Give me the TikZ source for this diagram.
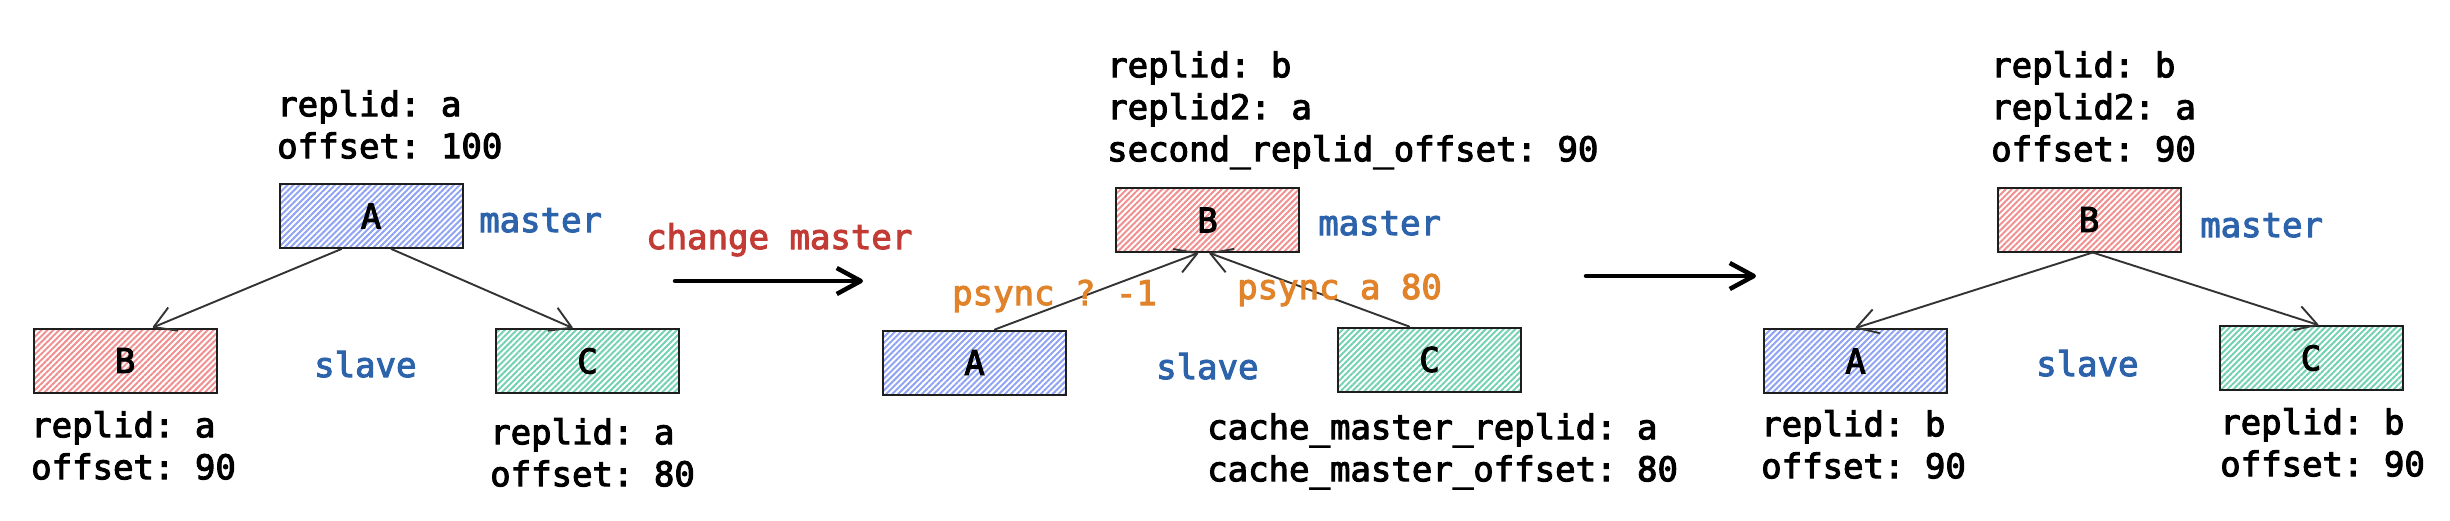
\documentclass[tikz,border=0pt]{standalone}
\usepackage{fontspec}
\setmonofont[FakeBold=3]{DejaVu Sans Mono}
\usetikzlibrary{arrows.meta,patterns.meta,calc}
\definecolor{hblue}{HTML}{91A4F3}
\definecolor{hred}{HTML}{F09090}
\definecolor{hgreen}{HTML}{74D2B2}
\definecolor{boxline}{HTML}{1E1E1E}
\definecolor{linkgray}{HTML}{333333}
\definecolor{roleblue}{HTML}{2C63AB}
\definecolor{actred}{HTML}{C23B35}
\definecolor{psorange}{HTML}{E0832A}
\begin{document}
\begin{tikzpicture}[x=1pt,y=-1pt,
  every node/.style={inner sep=0pt, font=\fontsize{34}{42}\selectfont\ttfamily},
  box/.style={draw=boxline, line width=2pt, minimum width=183pt, minimum height=64pt},
  hatch/.style={pattern={Lines[angle=45,distance=4.2pt,line width=2pt]}},
  bluebox/.style={box, hatch, pattern color=hblue},
  redbox/.style={box, hatch, pattern color=hred},
  greenbox/.style={box, hatch, pattern color=hgreen},
  info/.style={anchor=north west, align=left, text=black},
  role/.style={anchor=base west, text=roleblue},
  psync/.style={anchor=base west, text=psorange},
  link/.style={draw=linkgray, line width=1.9pt, line cap=round, -{Straight Barb[length=21pt,width=25pt,line join=round]}},
  bigarrow/.style={draw=black, line width=4.5pt, line cap=round, -{Straight Barb[length=24pt,width=26pt,line join=round]}}
]
\useasboundingbox (0,0) rectangle (2450,520);

% ---------- panel 1 ----------
\node[bluebox]  (A1) at (371,216)   {A};
\node[redbox]   (B1) at (125,360.5) {B};
\node[greenbox] (C1) at (587.5,361) {C};
\node[info] (A1info) at (277,90)  {replid: a\\offset: 100};
\node[info] (B1info) at (31,411)  {replid: a\\offset: 90};
\node[info] (C1info) at (490,418) {replid: a\\offset: 80};
\node[role] (m1) at (479,232) {master};
\node[role] (s1) at (314,377) {slave};
\draw[link] ($(A1.south west)!0.34!(A1.south east)$) -- ($(B1.north west)!0.65!(B1.north east)$);
\draw[link] ($(A1.south west)!0.61!(A1.south east)$) -- ($(C1.north west)!0.42!(C1.north east)$);

% ---------- transition 1 ----------
\node[anchor=base west, text=actred] (chg) at (646,249) {change master};
\coordinate (t1s) at (675,281);
\coordinate (t1e) at (863,281);
\draw[bigarrow] (t1s) -- (t1e);

% ---------- panel 2 ----------
\node[redbox]   (B2) at (1207.5,220)   {B};
\node[bluebox]  (A2) at (974.5,362.5)  {A};
\node[greenbox] (C2) at (1429.5,359.5) {C};
\node[info] (B2info) at (1107,51) {replid: b\\replid2: a\\second\_replid\_offset: 90};
\node[info] (C2info) at (1207,413) {cache\_master\_replid: a\\cache\_master\_offset: 80};
\node[role] (m2) at (1318,235) {master};
\node[role] (s2) at (1156,379) {slave};
\draw[link] ($(A2.north west)!0.61!(A2.north east)$) -- ($(B2.south west)!0.45!(B2.south east)$);
\draw[link] ($(C2.north west)!0.39!(C2.north east)$) -- ($(B2.south west)!0.51!(B2.south east)$);
\node[psync] (p1) at (952,305)  {psync ? -1};
\node[psync] (p2) at (1237,299) {psync a 80};

% ---------- transition 2 ----------
\coordinate (t2s) at (1586,276);
\coordinate (t2e) at (1756,276);
\draw[bigarrow] (t2s) -- (t2e);

% ---------- panel 3 ----------
\node[redbox]   (B3) at (2089,219.5)  {B};
\node[bluebox]  (A3) at (1855.5,361)  {A};
\node[greenbox] (C3) at (2311,358)    {C};
\node[info] (B3info) at (1991,51)  {replid: b\\replid2: a\\offset: 90};
\node[info] (A3info) at (1761,410) {replid: b\\offset: 90};
\node[info] (C3info) at (2220,408) {replid: b\\offset: 90};
\node[role] (m3) at (2200,237) {master};
\node[role] (s3) at (2036,376) {slave};
\draw[link] ($(B3.south west)!0.52!(B3.south east)$) -- ($(A3.north west)!0.50!(A3.north east)$);
\draw[link] ($(B3.south west)!0.52!(B3.south east)$) -- ($(C3.north west)!0.54!(C3.north east)$);
\end{tikzpicture}
\end{document}
